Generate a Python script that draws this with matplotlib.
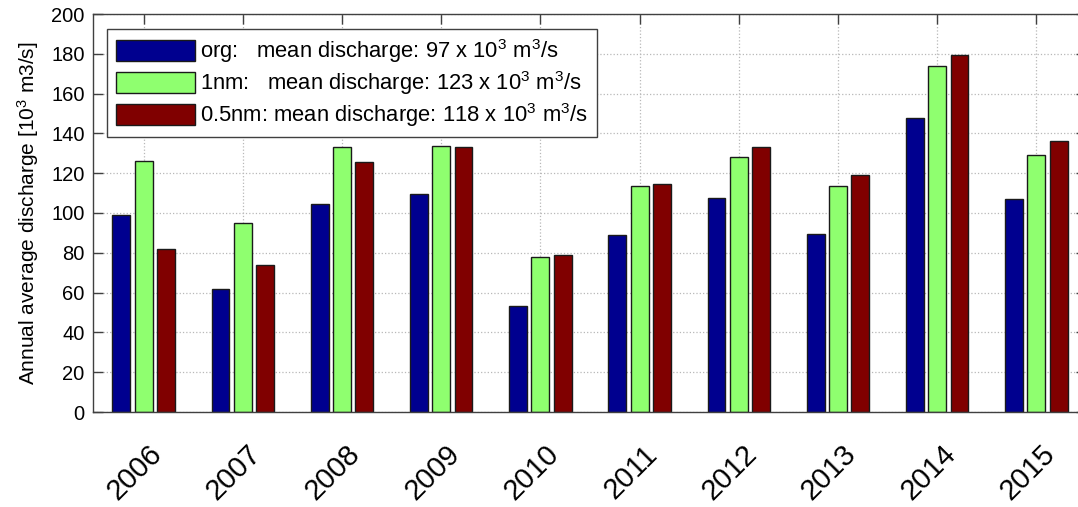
import numpy as np
import matplotlib
matplotlib.use("Agg")
import matplotlib.pyplot as plt
import matplotlib.transforms as mtransforms

plt.rcParams["font.family"] = ["Liberation Sans", "DejaVu Sans"]
plt.rcParams["mathtext.default"] = "regular"

years = ["2006", "2007", "2008", "2009", "2010", "2011", "2012", "2013", "2014", "2015"]
org = [99, 62, 104.5, 109.5, 53.5, 89, 107.5, 89.5, 147.5, 107]
nm1 = [126, 95, 133, 133.5, 78, 113.5, 128, 113.5, 174, 129]
nm05 = [82, 74, 125.5, 133, 79, 114.5, 133, 119, 179.5, 136]

labels = [
    "org:   mean discharge: 97 x 10$^3$ m$^3$/s",
    "1nm:   mean discharge: 123 x 10$^3$ m$^3$/s",
    "0.5nm: mean discharge: 118 x 10$^3$ m$^3$/s",
]
colors = ["#00008F", "#8FFF6F", "#800000"]

fig = plt.figure(figsize=(10.78, 5.07), dpi=100)
ax = fig.add_axes([93 / 1078, 1 - 412 / 507, 993 / 1078, 398 / 507])

x = np.arange(1, len(years) + 1)
step = 0.225
width = 0.18
for i, (vals, lab, col) in enumerate(zip([org, nm1, nm05], labels, colors)):
    ax.bar(x + (i - 1) * step, vals, width, color=col, edgecolor="#1a1a1a",
           linewidth=1.0, label=lab, zorder=2)

ax.set_xlim(0.49, 10.5)
ax.set_ylim(0, 200)
ax.set_yticks(np.arange(0, 201, 20))
ax.set_xticks(x)

ax.set_axisbelow(True)
ax.grid(True, linestyle=":", color="#b8b8b8", linewidth=0.9)
ax.tick_params(axis="both", direction="in", length=7, width=1, color="#404040",
               top=True, right=True)
ax.tick_params(axis="y", labelsize=14.5, pad=6)
ax.tick_params(axis="x", pad=20)
for s in ax.spines.values():
    s.set_color("#404040")
    s.set_linewidth(1.0)

# rotated year labels, nudged left after tick_params (which resets transforms)
ax.set_xticklabels(years, rotation=45, ha="center", va="top", fontsize=21)
offset = mtransforms.ScaledTranslation(-9 / 100, 0, fig.dpi_scale_trans)
for t in ax.get_xticklabels():
    t.set_transform(t.get_transform() + offset)

ax.set_ylabel("Annual average discharge [10$^3$ m3/s]", fontsize=15, labelpad=7)

leg = ax.legend(loc="upper left", bbox_to_anchor=(0.014, 0.963), fontsize=15.8,
                fancybox=False, framealpha=1, edgecolor="#404040",
                handlelength=3.6, handleheight=1.1, handletextpad=0.25,
                labelspacing=0.17, borderpad=0.4, borderaxespad=0)
leg.get_frame().set_linewidth(1.0)

fig.savefig("out.png", dpi=100)
